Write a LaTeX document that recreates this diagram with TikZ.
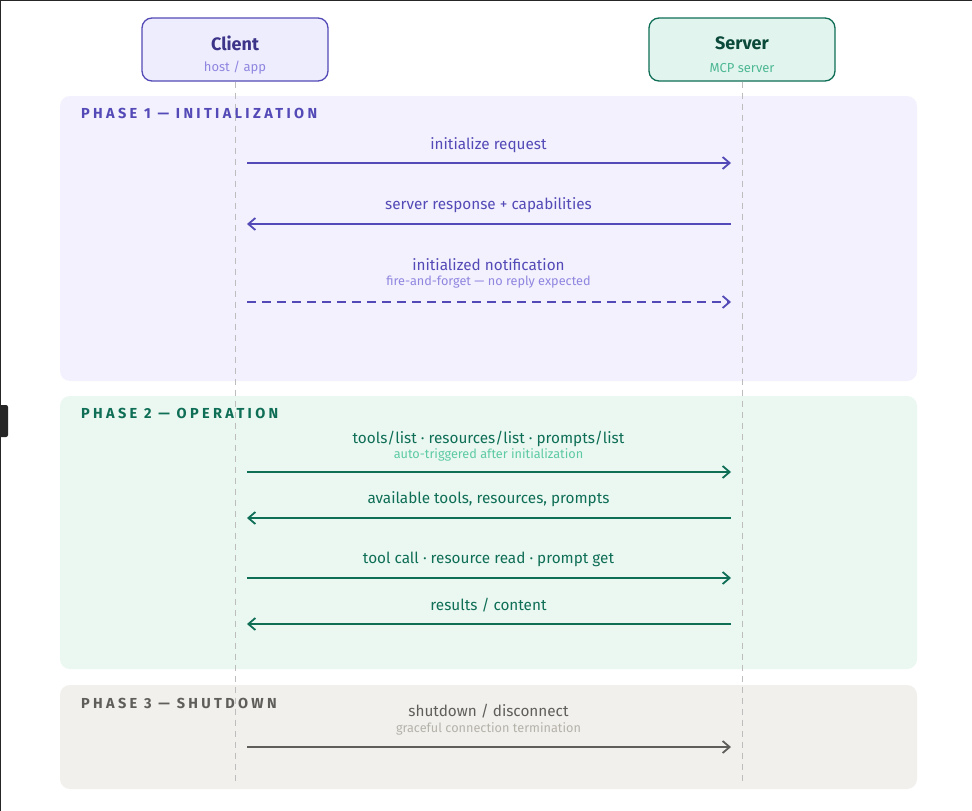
\documentclass[tikz,border=0pt]{standalone}
\usepackage{fontspec}
\setmainfont{Fira Sans}
\usetikzlibrary{arrows.meta}
\definecolor{pA}{HTML}{534AB7}
\definecolor{pAdark}{HTML}{3C3489}
\definecolor{pAsub}{HTML}{8F86E0}
\definecolor{pAfill}{HTML}{F3F1FD}
\definecolor{pAbox}{HTML}{EEEDFE}
\definecolor{gA}{HTML}{0F6E56}
\definecolor{gAdark}{HTML}{0B4A3A}
\definecolor{gAsub}{HTML}{5DCAA5}
\definecolor{gAfill}{HTML}{EAF8F1}
\definecolor{gAbox}{HTML}{E1F5EE}
\definecolor{sA}{HTML}{5F5E5A}
\definecolor{sAsub}{HTML}{B4B2A9}
\definecolor{sAfill}{HTML}{F2F0EC}
\definecolor{life}{HTML}{BDBDBD}
\tikzset{
  actor/.style={draw, line width=1.3pt, rounded corners=10pt, minimum width=186pt, minimum height=63pt, inner sep=0pt},
  phasebox/.style={draw=none, rounded corners=10pt},
  phasehead/.style={anchor=west, inner sep=0pt, font=\fontsize{14.5}{16}\selectfont\bfseries\addfontfeature{LetterSpace=23}},
  msg/.style={font=\fontsize{15.3}{18}\selectfont},
  submsg/.style={font=\fontsize{12.7}{14}\selectfont},
  arr/.style={line width=1.8pt, -{Straight Barb[length=7pt,width=12pt,line width=1.8pt]}},
  lifeline/.style={draw=life, line width=1pt, dash pattern=on 6pt off 5pt},
}
\begin{document}
\begin{tikzpicture}[x=1pt,y=-1pt]
\useasboundingbox[fill=white] (0,0) rectangle (972,811);
% screenshot frame
\draw[line width=1.5pt, color=black!85] (0,0.5) -- (972,0.5);
\draw[line width=1pt, color=black!85] (0.5,0) -- (0.5,811);
\fill[black!85, rounded corners=2pt] (-4,405) rectangle (8,437);
% phase boxes
\fill[pAfill, phasebox] (60,96) rectangle (917,381);
\fill[gAfill, phasebox] (60,396) rectangle (917,669);
\fill[sAfill, phasebox] (60,685) rectangle (917,789);
\node[phasehead, text=pA] (h1) at (81,113) {PHASE 1 — INITIALIZATION};
\node[phasehead, text=gA] (h2) at (81,413) {PHASE 2 — OPERATION};
\node[phasehead, text=sA] (h3) at (81,703) {PHASE 3 — SHUTDOWN};
% actors
\node[actor, draw=pA, fill=pAbox] (client) at (235,49.5) {};
\node[font=\fontsize{18}{20}\selectfont\bfseries, text=pAdark] (clientT) at (235,43) {Client};
\node[font=\fontsize{13}{15}\selectfont, text=pAsub] (clientS) at (235,68) {host / app};
\node[actor, draw=gA, fill=gAbox] (server) at (742,49.5) {};
\node[font=\fontsize{18}{20}\selectfont\bfseries, text=gAdark] (serverT) at (742,43) {Server};
\node[font=\fontsize{13}{15}\selectfont, text=gAsub!80!gA] (serverS) at (742,68) {MCP server};
% lifelines
\coordinate (cEnd) at (235,781);
\coordinate (sEnd) at (742,781);
\draw[lifeline] (client.south) -- (cEnd);
\draw[lifeline] (server.south) -- (sEnd);
% message anchor points
\foreach \n/\y in {1/163, 2/224, 3/302, 4/472, 5/518, 6/578, 7/624, 8/747} {
  \coordinate (c\n) at (247,\y);
  \coordinate (s\n) at (731,\y);
}
% phase 1
\draw[arr, pA] (c1) -- (s1);
\node[msg, text=pA] (l1) at (488.5,145) {initialize request};
\draw[arr, pA] (s2) -- (c2);
\node[msg, text=pA] (l2) at (488.5,205) {server response + capabilities};
\draw[arr, pA, dash pattern=on 9pt off 6pt] (c3) -- (s3);
\node[msg, text=pA] (l3) at (488.5,265) {initialized notification};
\node[submsg, text=pAsub] (l3s) at (488.5,282) {fire-and-forget — no reply expected};
% phase 2
\draw[arr, gA] (c4) -- (s4);
\node[msg, text=gA] (l4) at (488.5,439) {tools/list · resources/list · prompts/list};
\node[submsg, text=gAsub] (l4s) at (488.5,455) {auto-triggered after initialization};
\draw[arr, gA] (s5) -- (c5);
\node[msg, text=gA] (l5) at (488.5,499) {available tools, resources, prompts};
\draw[arr, gA] (c6) -- (s6);
\node[msg, text=gA] (l6) at (488.5,559) {tool call · resource read · prompt get};
\draw[arr, gA] (s7) -- (c7);
\node[msg, text=gA] (l7) at (488.5,605) {results / content};
% phase 3
\draw[arr, sA] (c8) -- (s8);
\node[msg, text=sA] (l8) at (488.5,711) {shutdown / disconnect};
\node[submsg, text=sAsub] (l8s) at (488.5,729) {graceful connection termination};
\end{tikzpicture}
\end{document}
